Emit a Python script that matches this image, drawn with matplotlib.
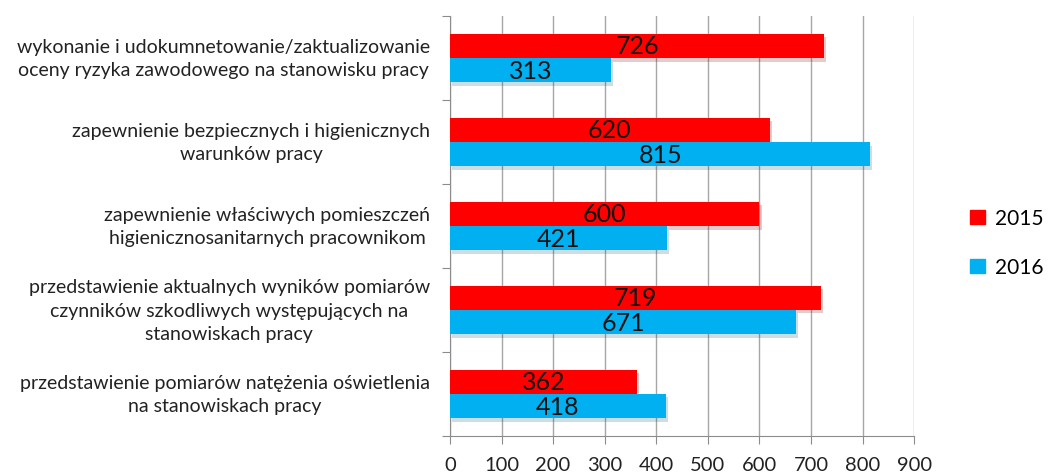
import numpy as np
import matplotlib.pyplot as plt
import matplotlib.patheffects as pe
from matplotlib.patches import Patch
from matplotlib.transforms import offset_copy

plt.rcParams['font.family'] = ['Lato', 'DejaVu Sans']

# Categories (top to bottom) and counts per year
categories = [
    "wykonanie i udokumnetowanie/zaktualizowanie\noceny ryzyka zawodowego na stanowisku pracy",
    "zapewnienie bezpiecznych i higienicznych\nwarunków pracy",
    "zapewnienie właściwych pomieszczeń\nhigienicznosanitarnych pracownikom",
    "przedstawienie aktualnych wyników pomiarów\nczynników szkodliwych występujących na\nstanowiskach pracy",
    "przedstawienie pomiarów natężenia oświetlenia\nna stanowiskach pracy",
]
values_2015 = [726, 620, 600, 719, 362]
values_2016 = [313, 815, 421, 671, 418]
years = ["2015", "2016"]
colors = ["#FF0000", "#00B0F0"]
xticks = list(range(0, 1000, 100))

fig = plt.figure(figsize=(10.55, 4.77), dpi=100)
ax = fig.add_axes([0.4265, 0.084, 0.44, 0.88])

y = np.arange(len(categories))
h = 0.29
shadow = [pe.SimplePatchShadow(offset=(1.5, -2.5), alpha=0.2, rho=0.5), pe.Normal()]

for vals, off, col in [(values_2015, -h / 2, colors[0]),
                       (values_2016, h / 2, colors[1])]:
    bars = ax.barh(y + off, vals, height=h, color=col, zorder=3)
    for b, v in zip(bars, vals):
        b.set_path_effects(shadow)
        ax.text(v / 2, b.get_y() + h / 2, str(v), ha='center', va='center',
                fontsize=18, color='#111111', zorder=4)

ax.set_xlim(0, 900)
ax.set_ylim(len(categories) - 0.5, -0.5)
ax.set_xticks(xticks)
ax.set_xticklabels([str(t) for t in xticks], fontsize=14.5, color='#222222')
ax.tick_params(axis='x', length=6, color='#8c8c8c', pad=8.5)

# category labels, with boundary ticks on the left axis
ax.set_yticks(np.arange(len(categories) + 1) - 0.5)
ax.set_yticklabels([])
ax.tick_params(axis='y', length=6, color='#8c8c8c')
lab_tr = offset_copy(ax.transData, fig=fig, x=-20, y=0, units='dots')
for yi, cat in zip(y, categories):
    ax.text(0, yi, cat, ha='right', va='center', multialignment='center',
            fontsize=14, color='#222222', transform=lab_tr, linespacing=1.47)

ax.grid(axis='x', color='#a6a6a6', linewidth=1, zorder=0)
for s in ['top', 'right']:
    ax.spines[s].set_visible(False)
for s in ['left', 'bottom']:
    ax.spines[s].set_color('#8c8c8c')

handles = [Patch(color=c, label=l) for c, l in zip(colors, years)]
ax.legend(handles=handles, loc='center left', bbox_to_anchor=(1.08, 0.46),
          frameon=False, fontsize=15, handlelength=0.7, handleheight=0.7,
          labelspacing=1.4, handletextpad=0.5)

fig.savefig('out.png', dpi=100)
